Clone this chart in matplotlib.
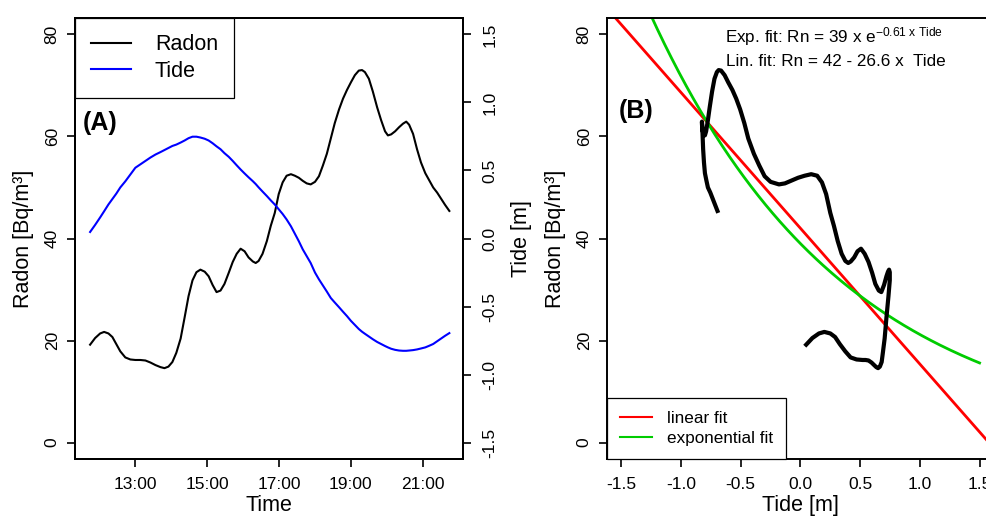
import numpy as np
import matplotlib
matplotlib.use("Agg")
import matplotlib.pyplot as plt
from matplotlib.ticker import FixedLocator

plt.rcParams['font.family'] = ['Liberation Sans', 'DejaVu Sans']
plt.rcParams['mathtext.fontset'] = 'custom'
plt.rcParams['mathtext.rm'] = 'Liberation Sans'
plt.rcParams['mathtext.it'] = 'Liberation Sans:italic'
plt.rcParams['axes.linewidth'] = 1.4
plt.rcParams['axes.unicode_minus'] = False

# hours of day
time_h = [11.74, 11.88, 12.02, 12.13, 12.25, 12.36, 12.47, 12.58, 12.72, 12.86,
          13.00, 13.14, 13.28, 13.42, 13.56, 13.70, 13.81, 13.92, 14.03, 14.14,
          14.26, 14.37, 14.48, 14.59, 14.70, 14.81, 14.93, 15.04, 15.15, 15.26,
          15.37, 15.48, 15.60, 15.71, 15.82, 15.93, 16.04, 16.15, 16.27, 16.35,
          16.43, 16.54, 16.66, 16.77, 16.88, 16.99, 17.10, 17.21, 17.33, 17.44,
          17.55, 17.66, 17.77, 17.88, 18.00, 18.11, 18.22, 18.33, 18.44, 18.55,
          18.67, 18.78, 18.89, 19.00, 19.11, 19.22, 19.31, 19.39, 19.50, 19.61,
          19.73, 19.84, 19.95, 20.03, 20.12, 20.23, 20.34, 20.45, 20.54, 20.62,
          20.73, 20.84, 20.95, 21.07, 21.18, 21.29, 21.40, 21.51, 21.62, 21.74]
radon = [19.2, 20.5, 21.4, 21.7, 21.4, 20.7, 19.3, 17.9, 16.7, 16.3,
         16.2, 16.2, 16.1, 15.7, 15.2, 14.8, 14.6, 14.9, 15.8, 17.6,
         20.4, 24.5, 28.7, 31.8, 33.4, 33.9, 33.5, 32.6, 30.9, 29.5,
         29.8, 31.1, 33.3, 35.4, 37.0, 38.0, 37.5, 36.3, 35.5, 35.2,
         35.6, 37.0, 39.5, 42.5, 45.0, 48.7, 51.0, 52.3, 52.6, 52.3,
         51.9, 51.3, 50.8, 50.6, 51.1, 52.2, 54.3, 56.6, 59.6, 62.6,
         65.3, 67.4, 69.1, 70.6, 72.0, 72.9, 73.0, 72.6, 71.3, 68.8,
         65.7, 63.2, 61.0, 60.2, 60.4, 61.0, 61.8, 62.5, 62.9, 62.3,
         60.5, 57.5, 54.9, 52.8, 51.4, 50.0, 49.0, 47.8, 46.6, 45.4]
tide = [0.048, 0.10, 0.155, 0.20, 0.25, 0.29, 0.33, 0.375, 0.42, 0.47,
        0.52, 0.545, 0.57, 0.595, 0.617, 0.635, 0.65, 0.665, 0.68, 0.69,
        0.705, 0.72, 0.737, 0.748, 0.748, 0.742, 0.733, 0.72, 0.70, 0.677,
        0.656, 0.627, 0.60, 0.57, 0.538, 0.507, 0.478, 0.45, 0.421, 0.40,
        0.376, 0.345, 0.312, 0.28, 0.25, 0.215, 0.18, 0.14, 0.09, 0.035,
        -0.02, -0.08, -0.13, -0.18, -0.25, -0.30, -0.345, -0.39, -0.437, -0.47,
        -0.505, -0.538, -0.57, -0.605, -0.635, -0.665, -0.685, -0.70, -0.72, -0.74,
        -0.76, -0.775, -0.79, -0.80, -0.81, -0.818, -0.823, -0.825, -0.825, -0.823,
        -0.82, -0.815, -0.808, -0.80, -0.788, -0.775, -0.755, -0.735, -0.715, -0.695]

time_ticks = [13, 15, 17, 19, 21]
time_labels = ["13:00", "15:00", "17:00", "19:00", "21:00"]
radon_ticks = [0, 20, 40, 60, 80]
tide_ticks = [-1.5, -1.0, -0.5, 0.0, 0.5, 1.0, 1.5]

# fit parameters
lin_a, lin_b = 42, -26.6
exp_a, exp_b = 39, -0.61

fig = plt.figure(figsize=(9.87, 5.19), dpi=100)
axA = fig.add_axes([0.076, 0.1156, 0.3931, 0.8497])
axB = fig.add_axes([0.615, 0.1156, 0.392, 0.8497])

def style(ax, ypad=5):
    ax.tick_params(direction='out', length=6, width=1.2, labelsize=12.5, pad=7)
    ax.tick_params(axis='y', pad=ypad)
    for lab in ax.get_yticklabels():
        lab.set_rotation(90)
        lab.set_va('center')

# ---- panel A
axA.plot(time_h, radon, color='black', lw=1.5)
axA.set_xlim(11.32, 22.12)
axA.set_ylim(-3.2, 83.2)
axA.xaxis.set_major_locator(FixedLocator(time_ticks))
axA.set_xticklabels(time_labels)
axA.yaxis.set_major_locator(FixedLocator(radon_ticks))
axA.set_xlabel("Time", fontsize=15.5, labelpad=2)
axA.set_ylabel("Radon [Bq/m³]", fontsize=15.5, labelpad=8)
style(axA)

axT = axA.twinx()
axT.plot(time_h, tide, color='#0000FF', lw=1.5)
axT.set_ylim(-1.62, 1.62)
axT.yaxis.set_major_locator(FixedLocator(tide_ticks))
axT.set_ylabel("Tide [m]", fontsize=15.5, rotation=90, labelpad=10)
style(axT, ypad=8)

axA.text(12.02, 62.7, "(A)", fontsize=18, fontweight='bold', ha='center', va='center')
hA = [plt.Line2D([], [], color='black', lw=1.5), plt.Line2D([], [], color='#0000FF', lw=1.5)]
legA = axT.legend(hA, ["Radon", "Tide"], loc='upper left', bbox_to_anchor=(0, 1),
                  borderaxespad=0, fancybox=False, edgecolor='black', fontsize=15.5,
                  handlelength=1.86, handletextpad=1.1, borderpad=0.75, labelspacing=0.25,
                  framealpha=1)
legA.get_frame().set_linewidth(0.9)

# ---- panel B
tx = np.linspace(-1.62, 1.62, 200)
axB.plot(tx, lin_a + lin_b * tx, color='#FF0000', lw=2.0)
te = np.linspace(-1.5, 1.5, 200)
axB.plot(te, exp_a * np.exp(exp_b * te), color='#00CC00', lw=2.0)
axB.plot(tide, radon, color='black', lw=3.0)
axB.set_xlim(-1.62, 1.62)
axB.set_ylim(-3.2, 83.2)
axB.xaxis.set_major_locator(FixedLocator(tide_ticks))
axB.yaxis.set_major_locator(FixedLocator(radon_ticks))
axB.set_xlabel("Tide [m]", fontsize=15.5, labelpad=2)
axB.set_ylabel("Radon [Bq/m³]", fontsize=15.5, labelpad=8)
style(axB)
axB.spines['right'].set_visible(False)

axB.text(-1.377, 64.9, "(B)", fontsize=18, fontweight='bold', ha='center', va='center')
axB.text(-0.634, 79.6, r"Exp. fit: Rn = 39 $\mathregular{x}$ e$^{\mathregular{-0.61\ x\ Tide}}$",
         fontsize=12.3, ha='left', va='center')
axB.text(-0.62, 74.7, "Lin. fit: Rn = 42 - 26.6 x  Tide", fontsize=12.3, ha='left', va='center')
hB = [plt.Line2D([], [], color='#FF0000', lw=1.5), plt.Line2D([], [], color='#00CC00', lw=1.5)]
legB = axB.legend(hB, ["linear fit", "exponential fit"], loc='lower left', bbox_to_anchor=(0, 0),
                  borderaxespad=0, fancybox=False, edgecolor='black', fontsize=12.3,
                  handlelength=1.9, handletextpad=0.85, borderpad=0.75, labelspacing=0.3,
                  framealpha=1)
legB.get_frame().set_linewidth(0.9)

fig.savefig("out.png", dpi=100)
